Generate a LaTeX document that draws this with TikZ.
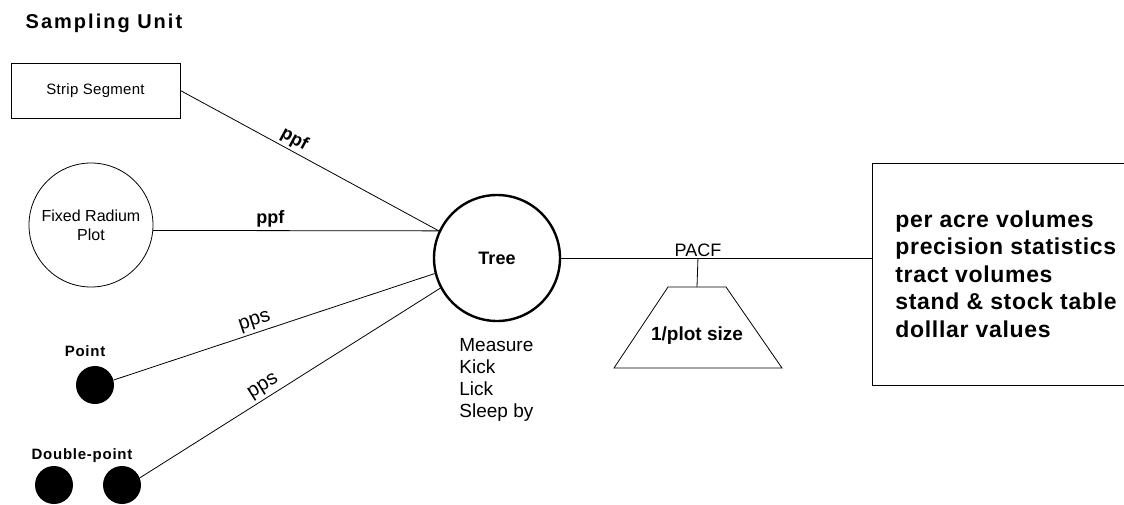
\documentclass[tikz,border=0pt]{standalone}
\usepackage{fontspec}
\setmainfont{Liberation Sans}
\begin{document}
\begin{tikzpicture}[x=1pt,y=-1pt,line width=0.8pt,
  dot/.style={circle,fill=black,minimum size=38pt,inner sep=0pt},
  lblbold/.style={font=\fontsize{18}{20}\selectfont\bfseries,inner sep=2.5pt},
  lblplain/.style={font=\fontsize{20}{22}\selectfont,inner sep=2.5pt},
  dotname/.style={font=\fontsize{15}{17}\selectfont\bfseries\addfontfeature{LetterSpace=5}}]
\useasboundingbox (0,0) rectangle (1124,504);
\node[anchor=base west,font=\fontsize{20}{24}\selectfont\bfseries\addfontfeature{LetterSpace=10}] (title) at (22,28) {Sampling Unit};
\node[draw,minimum width=169pt,minimum height=55pt,font=\fontsize{15}{18}\selectfont\addfontfeature{LetterSpace=2}] (strip) at (95.5,90.5) {Strip Segment};
\node[draw,circle,minimum size=124pt,inner sep=0pt,align=center,font=\fontsize{16}{19}\selectfont] (frp) at (91,225) {Fixed Radium\\Plot};
\node[dotname] (ptname) at (85,351) {Point};
\node[dot] (pt) at (95,385) {};
\node[dotname] (dpname) at (82,456) {Double-point};
\node[dot] (dpa) at (54,485) {};
\node[dot] (dpb) at (122,485) {};
\node[draw,circle,line width=2.4pt,minimum size=126pt,font=\fontsize{18}{20}\selectfont\bfseries] (tree) at (497,258) {Tree};
\node[anchor=north west,inner sep=0pt,align=left,font=\fontsize{19}{22}\selectfont] (tasks) at (459,338) {Measure\\Kick\\Lick\\Sleep by};
\draw (strip.east) -- (tree.155) node[lblbold,sloped,above,pos=.42] {ppf};
\draw (frp.-5) -- (tree.155) node[lblbold,above,pos=.41] {ppf};
\draw (pt.15) -- (tree.194) node[lblplain,sloped,above,pos=.45] {pps};
\draw (dpb.22) -- (tree.208) node[lblplain,sloped,above,pos=.43] {pps};
\coordinate (outnw) at (872,163);
\coordinate (outsw) at (872,385);
\draw (1124,163) -- (outnw) -- (outsw) -- (1124,385);
\node[anchor=west,align=left,inner sep=0pt,font=\fontsize{23}{27.5}\selectfont\bfseries\addfontfeature{LetterSpace=3}] (out) at (895,274) {per acre volumes\\precision statistics\\tract volumes\\stand \& stock table\\dolllar values};
\draw (tree.east) -- (tree.east -| outnw) coordinate[pos=.44] (tap);
\node[above,inner sep=1pt,font=\fontsize{18}{20}\selectfont] (pacf) at (tap) {PACF};
\coordinate (traptop) at (697,287);
\draw (tap) -- (traptop);
\draw (668,287) -- (726,287) -- (782,368) -- (614,368) -- cycle;
\node[font=\fontsize{19}{21}\selectfont\bfseries] (scale) at (697,336) {1/plot size};
\end{tikzpicture}
\end{document}
